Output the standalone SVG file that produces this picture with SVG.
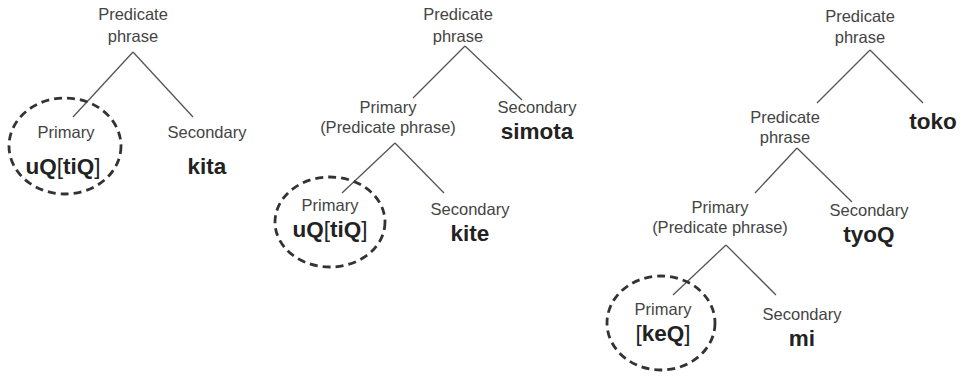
<svg xmlns="http://www.w3.org/2000/svg" width="964" height="380" viewBox="0 0 964 380">
<style>
.t{font-family:"Liberation Sans",Arial,sans-serif;font-size:16.5px;fill:#444;text-anchor:middle}
.b{font-family:"Liberation Sans",Arial,sans-serif;font-size:22.5px;font-weight:bold;fill:#222;text-anchor:middle}
.k{font-weight:normal}
.c line{stroke:#555;stroke-width:1.3}
.e{fill:none;stroke:#333;stroke-width:2.8;stroke-dasharray:8 5}
</style>
<rect width="964" height="380" fill="#fff"/>
<g id="connectors" class="c">
<line x1="133" y1="52" x2="73" y2="117"/>
<line x1="133" y1="52" x2="193" y2="117"/>
<line x1="465" y1="46" x2="413" y2="98"/>
<line x1="465" y1="46" x2="522" y2="100"/>
<line x1="395" y1="143" x2="342" y2="193"/>
<line x1="395" y1="143" x2="444" y2="193"/>
<line x1="870" y1="50" x2="817" y2="103"/>
<line x1="870" y1="50" x2="923" y2="103"/>
<line x1="797" y1="148" x2="755" y2="193"/>
<line x1="797" y1="148" x2="852" y2="202"/>
<line x1="726" y1="245" x2="673" y2="295"/>
<line x1="726" y1="245" x2="776" y2="295"/>
</g>
<g id="t1-root"><text class="t" x="133" y="20">Predicate</text><text class="t" x="133" y="42">phrase</text></g>
<g id="t1-primary"><ellipse class="e" cx="65" cy="146" rx="56" ry="48"/><text class="t" x="66" y="138">Primary</text><text class="b" x="63" y="174">uQ<tspan class="k">[</tspan>tiQ<tspan class="k">]</tspan></text></g>
<g id="t1-secondary"><text class="t" x="207" y="138">Secondary</text><text class="b" x="207" y="174">kita</text></g>
<g id="t2-root"><text class="t" x="458" y="20">Predicate</text><text class="t" x="458" y="42">phrase</text></g>
<g id="t2-mid"><text class="t" x="388" y="113">Primary</text><text class="t" x="388" y="133">(Predicate phrase)</text></g>
<g id="t2-secondary1"><text class="t" x="537" y="113">Secondary</text><text class="b" x="537" y="139">simota</text></g>
<g id="t2-primary"><ellipse class="e" cx="330" cy="222" rx="55" ry="45"/><text class="t" x="330" y="211">Primary</text><text class="b" x="330" y="237">uQ<tspan class="k">[</tspan>tiQ<tspan class="k">]</tspan></text></g>
<g id="t2-secondary2"><text class="t" x="470" y="215">Secondary</text><text class="b" x="470" y="241">kite</text></g>
<g id="t3-root"><text class="t" x="860" y="22">Predicate</text><text class="t" x="860" y="43">phrase</text></g>
<g id="t3-toko"><text class="b" x="933" y="129">toko</text></g>
<g id="t3-mid1"><text class="t" x="785" y="123">Predicate</text><text class="t" x="785" y="143">phrase</text></g>
<g id="t3-mid2"><text class="t" x="720" y="213">Primary</text><text class="t" x="720" y="233">(Predicate phrase)</text></g>
<g id="t3-secondary1"><text class="t" x="869" y="216">Secondary</text><text class="b" x="869" y="242">tyoQ</text></g>
<g id="t3-primary"><ellipse class="e" cx="661" cy="323" rx="54" ry="47"/><text class="t" x="663" y="315">Primary</text><text class="b" x="663" y="341"><tspan class="k">[</tspan>keQ<tspan class="k">]</tspan></text></g>
<g id="t3-secondary2"><text class="t" x="802" y="320">Secondary</text><text class="b" x="802" y="346">mi</text></g>
</svg>
